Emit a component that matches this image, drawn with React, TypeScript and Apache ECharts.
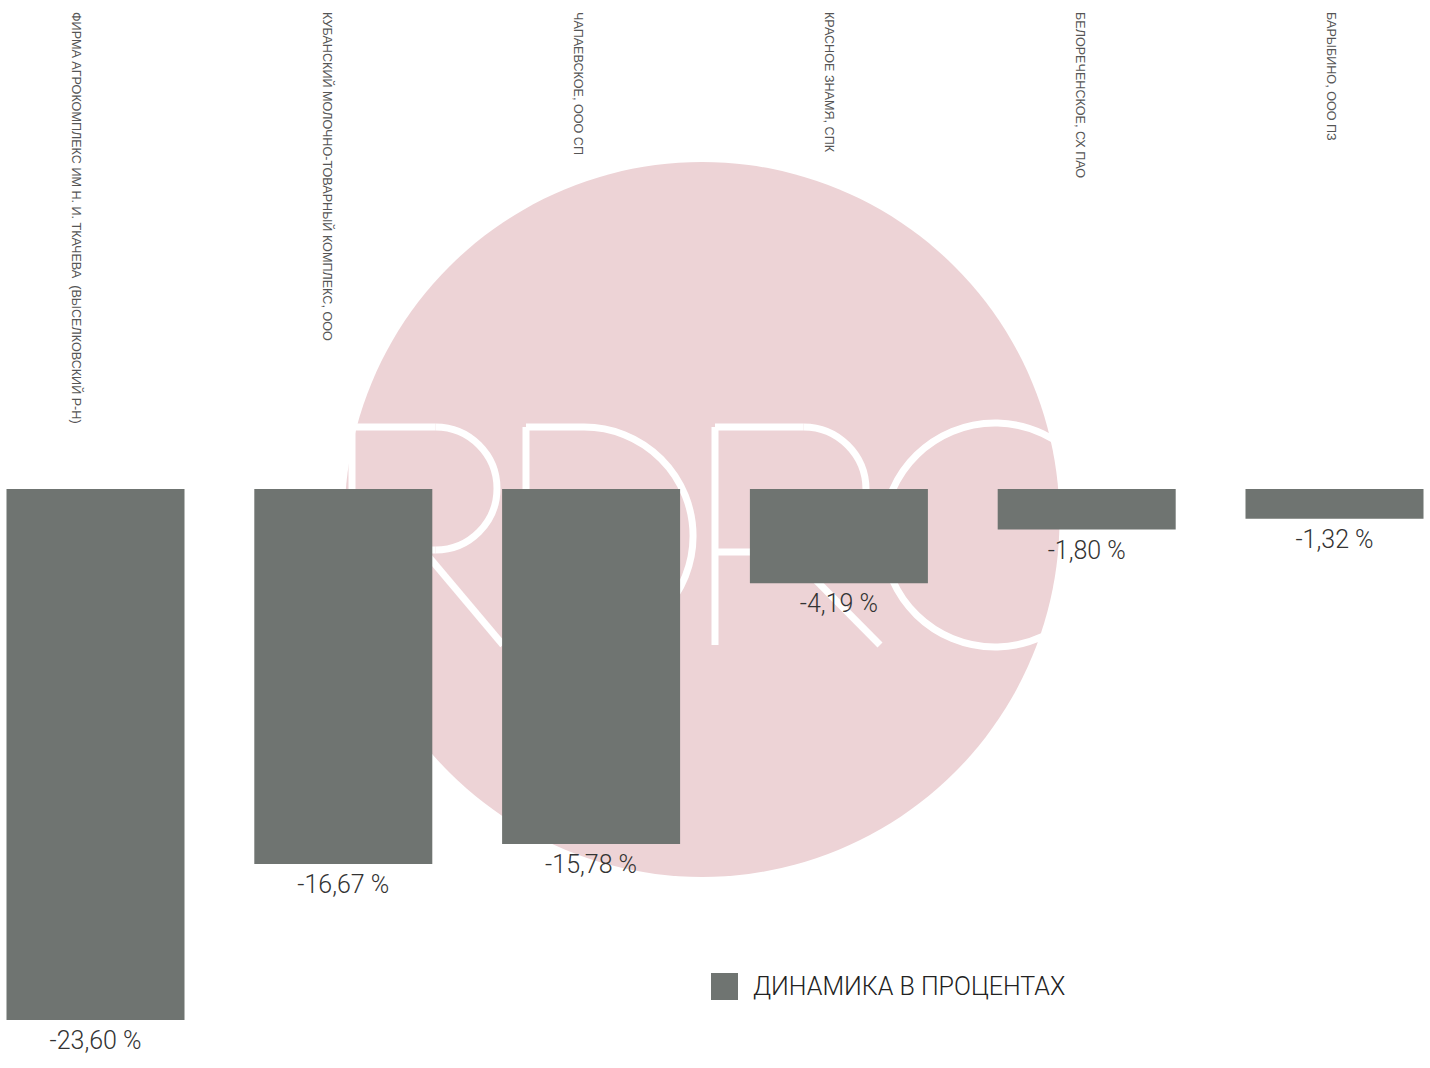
import React, { useEffect, useRef } from "react";
import * as echarts from "echarts";

const categories = [
  "ФИРМА АГРОКОМПЛЕКС ИМ Н. И. ТКАЧЕВА  (ВЫСЕЛКОВСКИЙ Р-Н)",
  "КУБАНСКИЙ МОЛОЧНО-ТОВАРНЫЙ КОМПЛЕКС, ООО",
  "ЧАПАЕВСКОЕ, ООО СП",
  "КРАСНОЕ ЗНАМЯ, СПК",
  "БЕЛОРЕЧЕНСКОЕ, СХ ПАО",
  "БАРЫБИНО, ООО ПЗ",
];
const values = [-23.6, -16.67, -15.78, -4.19, -1.8, -1.32];
const seriesName = "ДИНАМИКА В ПРОЦЕНТАХ";

const BAR = "#6F7471";
const PINK = "#EDD3D6";

function buildWatermark() {
  const st = { stroke: "#ffffff", lineWidth: 7, fill: "none", lineCap: "butt" };
  const line = (x1: number, y1: number, x2: number, y2: number) => ({
    type: "line",
    shape: { x1, y1, x2, y2 },
    style: st,
    silent: true,
  });
  const arc = (cx: number, cy: number, r: number, s: number, e: number, cw: boolean) => ({
    type: "arc",
    shape: { cx, cy, r, startAngle: s, endAngle: e, clockwise: cw },
    style: st,
    silent: true,
  });
  const H = Math.PI / 2;
  return [
    {
      type: "circle",
      shape: { cx: 702, cy: 519.5, r: 357.5 },
      style: { fill: PINK },
      silent: true,
    },
    // R
    line(352, 427, 352, 645),
    line(352, 427, 435.5, 427),
    arc(435.5, 488.5, 61.5, -H, H, true),
    line(352, 550, 435.5, 550),
    line(423, 550, 503, 645),
    // D
    line(526, 427, 526, 645),
    line(526, 427, 584, 427),
    arc(584, 536, 109, -H, H, true),
    line(526, 645, 584, 645),
    // R
    line(715, 427, 715, 645),
    line(715, 427, 803.5, 427),
    arc(803.5, 489.5, 62.5, -H, H, true),
    line(715, 552, 803.5, 552),
    line(788, 552, 880, 645),
    // C
    arc(995, 535, 112, -0.75, 0.75, false),
  ];
}

export default function App() {
  const ref = useRef<HTMLDivElement>(null);
  useEffect(() => {
    if (!ref.current) return;
    const chart = echarts.init(ref.current, undefined, { renderer: "svg" });
    chart.setOption({
      animation: false,
      backgroundColor: "#ffffff",
      graphic: { elements: buildWatermark() },
      legend: {
        data: [seriesName],
        left: 706,
        top: 968,
        icon: "rect",
        itemWidth: 27,
        itemHeight: 27,
        textStyle: {
          fontSize: 25,
          color: "#222",
          fontFamily: "Roboto",
          fontWeight: 300,
          padding: [0, 0, 0, 10],
        },
      },
      grid: [
        { left: 95.5, right: 95.5, top: 489, height: 540 },
        { left: 75.5, right: 99, top: 0, height: 4 },
      ],
      xAxis: [
        {
          type: "category",
          gridIndex: 0,
          data: categories,
          boundaryGap: false,
          show: false,
        },
        {
          type: "category",
          gridIndex: 1,
          data: categories,
          boundaryGap: false,
          position: "bottom",
          axisLine: { show: false },
          axisTick: { show: false },
          splitLine: { show: false },
          axisLabel: {
            interval: 0,
            rotate: -90,
            margin: 8,
            fontSize: 12.6,
            color: "#555",
            fontFamily: "Liberation Sans",
          },
        },
      ],
      yAxis: [
        { type: "value", gridIndex: 0, min: -24, max: 0, show: false },
        { type: "value", gridIndex: 1, show: false },
      ],
      series: [
        {
          name: seriesName,
          type: "bar",
          xAxisIndex: 0,
          yAxisIndex: 0,
          data: values,
          barWidth: 178,
          itemStyle: { color: BAR },
          z: 5,
          label: {
            show: true,
            position: "bottom",
            distance: 8,
            fontSize: 25,
            color: "#333",
            fontFamily: "Roboto",
            fontWeight: 300,
            formatter: (p: any) => p.value.toFixed(2).replace(".", ",") + " %",
          },
        },
      ],
    });
    return () => chart.dispose();
  }, []);
  return (
    <div
      ref={ref}
      style={{ position: "absolute", left: 0, top: 0, width: 1430, height: 1068 }}
    />
  );
}
